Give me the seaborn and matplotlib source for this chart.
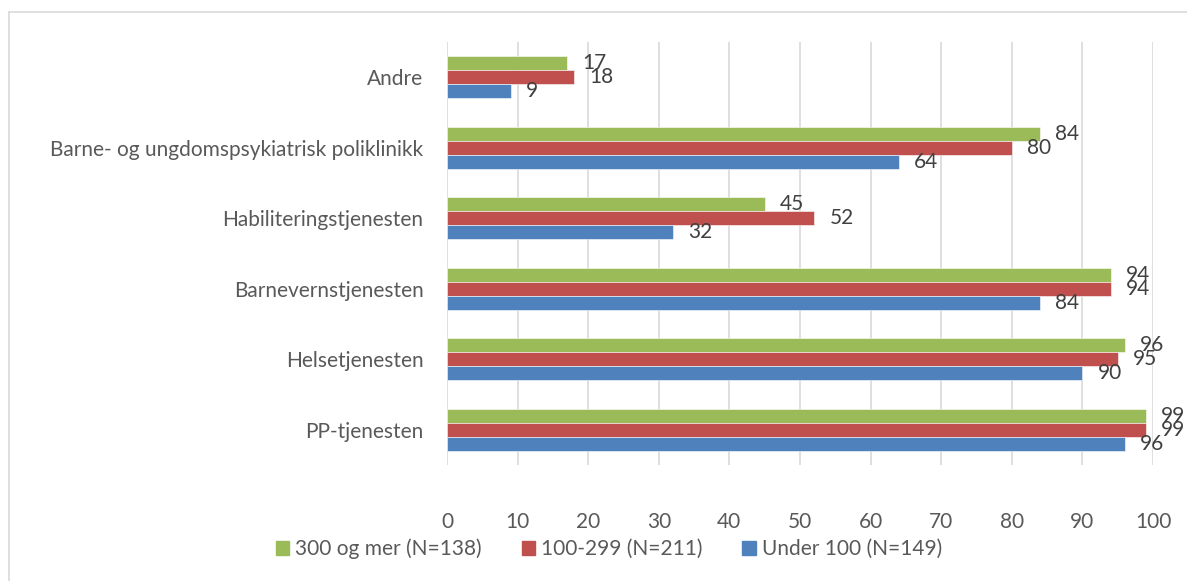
import matplotlib
matplotlib.use("Agg")
import matplotlib.pyplot as plt
from matplotlib.lines import Line2D
import seaborn as sns
import pandas as pd

categories = [
    "Andre",
    "Barne- og ungdomspsykiatrisk poliklinikk",
    "Habiliteringstjenesten",
    "Barnevernstjenesten",
    "Helsetjenesten",
    "PP-tjenesten",
]
series_names = ["300 og mer (N=138)", "100-299 (N=211)", "Under 100 (N=149)"]
large = [17, 84, 45, 94, 96, 99]
medium = [18, 80, 52, 94, 95, 99]
small = [9, 64, 32, 84, 90, 96]
colors = ["#9BBB59", "#C0504D", "#4F81BD"]
x_ticks = [0, 10, 20, 30, 40, 50, 60, 70, 80, 90, 100]

rows = []
for name, vals in zip(series_names, [large, medium, small]):
    for cat, v in zip(categories, vals):
        rows.append({"kategori": cat, "andel": v, "gruppe": name})
df = pd.DataFrame(rows)

sns.set_style("white")
plt.rcParams["font.family"] = ["Lato", "DejaVu Sans"]
FS = 15

fig = plt.figure(figsize=(11.87, 5.81), dpi=100)
ax = fig.add_axes([447 / 1187, (581 - 465) / 581, (1153 - 447) / 1187, (465 - 42) / 581])

sns.barplot(
    data=df, y="kategori", x="andel", hue="gruppe",
    order=categories, hue_order=series_names, palette=colors,
    orient="h", width=0.6, gap=0, ax=ax, legend=False,
    edgecolor="white", linewidth=0.4, saturation=1,
)

for container in ax.containers:
    ax.bar_label(container, padding=11, fontsize=FS, color="#404040")

ax.set_xlim(0, 100)
ax.set_ylim(5.5, -0.5)
ax.set_xticks(x_ticks)
ax.grid(axis="x", color="#D9D9D9", linewidth=1.2)
ax.grid(axis="y", visible=False)
ax.set_axisbelow(True)
for s in ["top", "right", "bottom", "left"]:
    ax.spines[s].set_visible(False)
ax.set_xlabel("")
ax.set_ylabel("")
ax.tick_params(axis="x", length=0, pad=34, labelsize=FS, labelcolor="#595959")
ax.tick_params(axis="y", length=0, pad=17, labelsize=FS, labelcolor="#595959")

handles = [plt.Rectangle((0, 0), 1, 1, color=c) for c in colors]
fig.legend(handles, series_names, loc="center", bbox_to_anchor=(609 / 1187, 1 - 549 / 581),
           ncol=3, frameon=False, fontsize=FS, labelcolor="#595959",
           handlelength=0.65, handleheight=0.65, handletextpad=0.3, columnspacing=1.9)

# thin frame lines along the top and left edges of the figure
fig.add_artist(Line2D([9 / 1187, 1.0], [1 - 12 / 581, 1 - 12 / 581], color="#D9D9D9", linewidth=1.2))
fig.add_artist(Line2D([9 / 1187, 9 / 1187], [0.0, 1 - 12 / 581], color="#D9D9D9", linewidth=1.2))

fig.savefig("out.png", dpi=100)
